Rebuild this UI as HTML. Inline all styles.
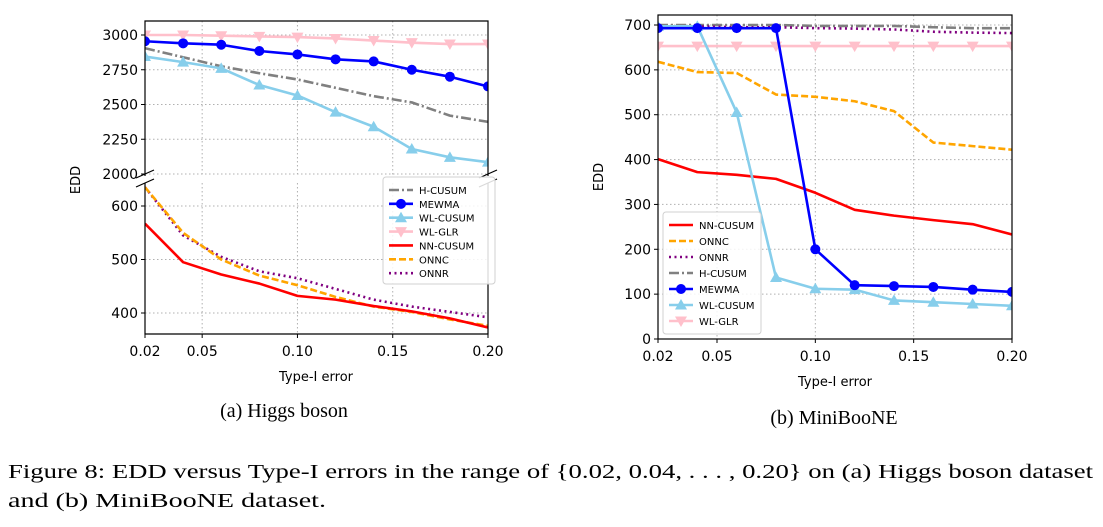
<!DOCTYPE html>
<html><head><meta charset="utf-8"><style>
body{margin:0;background:#fff;}
svg text{font-family:"DejaVu Sans","Liberation Sans",sans-serif;}
.serif{font-family:"Liberation Serif","DejaVu Serif",serif;}
</style></head><body>
<svg id="fig" width="1103" height="522" viewBox="0 0 1103 522" xmlns="http://www.w3.org/2000/svg">
<g id="gA"></g>
<g id="gB"></g>
<text class="serif" x="284" y="417" font-size="20" text-anchor="middle">(a) Higgs boson</text>
<text class="serif" x="834" y="424" font-size="20" text-anchor="middle">(b) MiniBooNE</text>
<text class="serif" x="8" y="478" font-size="20" textLength="1085" lengthAdjust="spacingAndGlyphs">Figure 8: EDD versus Type-I errors in the range of {0.02, 0.04, . . . , 0.20} on (a) Higgs boson dataset</text>
<text class="serif" x="8" y="507" font-size="20" textLength="318" lengthAdjust="spacingAndGlyphs">and (b) MiniBooNE dataset.</text>
</svg>
<script>
const xs=[0.02,0.04,0.06,0.08,0.10,0.12,0.14,0.16,0.18,0.20];
const xTicks=[0.02,0.05,0.10,0.15,0.20];
const xTickLabels=["0.02","0.05","0.10","0.15","0.20"];
// Higgs
const aWLGLR=[3000,3000,2995,2990,2985,2975,2960,2945,2935,2935];
const aMEWMA=[2955,2940,2930,2885,2860,2825,2810,2750,2700,2630];
const aHCUSUM=[2905,2840,2775,2725,2680,2620,2560,2515,2420,2375];
const aWLCUSUM=[2845,2805,2760,2640,2565,2445,2340,2180,2120,2085];
const aNNCUSUM=[567,495,472,455,432,425,413,403,390,373];
const aONNC=[635,550,500,470,452,430,412,402,388,376];
const aONNR=[635,545,505,478,465,445,425,412,402,392];
const aTopTicks=[2000,2250,2500,2750,3000];
const aBotTicks=[400,500,600];
// MiniBooNE
const bMEWMA=[693,693,693,693,200,120,118,116,110,105];
const bWLCUSUM=[697,697,505,137,112,110,86,82,78,74];
const bWLGLR=[653,653,653,653,653,653,653,653,653,653];
const bHCUSUM=[700,700,700,700,698,698,698,695,693,693];
const bONNR=[697,697,695,695,693,692,690,685,683,682];
const bONNC=[618,595,593,545,540,530,508,438,430,422];
const bNNCUSUM=[401,372,366,357,326,288,275,265,256,233];
const bTicks=[0,100,200,300,400,500,600,700];

const NS="http://www.w3.org/2000/svg";
function mk(p,tag,at){const e=document.createElementNS(NS,tag);for(const k in at)e.setAttribute(k,at[k]);p.appendChild(e);return e;}
function lin(d0,d1,r0,r1){return v=>r0+(v-d0)*(r1-r0)/(d1-d0);}
const styles={
 "H-CUSUM":{c:"#808080",dash:"10,3,2,3",m:null},
 "MEWMA":{c:"#0000ff",dash:null,m:"o"},
 "WL-CUSUM":{c:"#87ceeb",dash:null,m:"^"},
 "WL-GLR":{c:"#ffc0cb",dash:null,m:"v"},
 "NN-CUSUM":{c:"#ff0000",dash:null,m:null},
 "ONNC":{c:"#ffa500",dash:"7,3",m:null},
 "ONNR":{c:"#800080",dash:"2,3.5",m:null}};
function marker(g,type,x,y,c,name){
 let e;
 if(type==="o")e=mk(g,"circle",{cx:x,cy:y,r:5,fill:c});
 else if(type==="^")e=mk(g,"polygon",{points:`${x},${y-6} ${x-6},${y+4.5} ${x+6},${y+4.5}`,fill:c});
 else e=mk(g,"polygon",{points:`${x},${y+6} ${x-6},${y-4.5} ${x+6},${y-4.5}`,fill:c});
 
 
}
function series(g,name,vals,X,Y,clip){
 const s=styles[name];
 const sg=mk(g,"g",{"clip-path":clip?`url(#${clip})`:""});
 
 
 const pts=vals.map((v,i)=>X(xs[i])+","+Y(v)).join(" ");
 const pl=mk(sg,"polyline",{points:pts,fill:"none",stroke:s.c,"stroke-width":2.6,"stroke-linejoin":"round"});
 if(s.dash)pl.setAttribute("stroke-dasharray",s.dash);
 
 
 if(s.m)vals.forEach((v,i)=>marker(sg,s.m,X(xs[i]),Y(v),s.c,name.toLowerCase()));
}
function grid(g,X,Y,x0,x1,y0,y1,yt){
 xTicks.forEach(t=>{const l=mk(g,"line",{x1:X(t),x2:X(t),y1:y0,y2:y1,stroke:"#b0b0b0","stroke-width":1,"stroke-dasharray":"1.5,2.5"});});
 yt.forEach(t=>{const l=mk(g,"line",{x1:x0,x2:x1,y1:Y(t),y2:Y(t),stroke:"#b0b0b0","stroke-width":1,"stroke-dasharray":"1.5,2.5"});});
}
function yTicks(g,Y,x0,yt){
 yt.forEach(t=>{mk(g,"line",{x1:x0-4,x2:x0,y1:Y(t),y2:Y(t),stroke:"#000"});
  const tx=mk(g,"text",{x:x0-7,y:Y(t)+5,"font-size":14,"text-anchor":"end"});tx.textContent=t;
  });
}
function xAxis(g,X,yb){
 xTicks.forEach((t,i)=>{mk(g,"line",{x1:X(t),x2:X(t),y1:yb,y2:yb+4,stroke:"#000"});
  const tx=mk(g,"text",{x:X(t),y:yb+22,"font-size":14,"text-anchor":"middle"});tx.textContent=xTickLabels[i];
  });
}
function legend(g,x,y,w,h,names){
 const lg=mk(g,"g",{});
 
 mk(lg,"rect",{x:x,y:y,width:w,height:h,rx:3,fill:"#fff","fill-opacity":0.85,stroke:"#d0d0d0"});
 names.forEach((n,i)=>{
  const s=styles[n];const yy=y+11+i*(h-10)/names.length+2;
  const eg=mk(lg,"g",{});
  
  const l=mk(eg,"line",{x1:x+6,x2:x+30,y1:yy,y2:yy,stroke:s.c,"stroke-width":2.6});
  if(s.dash)l.setAttribute("stroke-dasharray",s.dash);
  if(s.m)marker(eg,s.m,x+18,yy,s.c,'legend-'+n.toLowerCase());
  const t=mk(eg,"text",{x:x+36,y:yy+4,"font-size":10});t.textContent=n;
 });
}
// Chart A
(function(){
 const g=document.getElementById("gA");
 const x0=145,x1=488;const X=lin(0.02,0.20,x0,x1);
 const Yt=lin(2000,3000,174,35), Yb=lin(400,600,313,206);
 const defs=mk(g,"defs",{});
 const c1=mk(defs,"clipPath",{id:"ca1"});mk(c1,"rect",{x:x0,y:21,width:x1-x0,height:155});
 const c2=mk(defs,"clipPath",{id:"ca2"});mk(c2,"rect",{x:x0,y:183,width:x1-x0,height:151});
 grid(g,X,Yt,x0,x1,21,176,aTopTicks);
 grid(g,X,Yb,x0,x1,183,334,aBotTicks);
 series(g,"WL-GLR",aWLGLR,X,Yt,"ca1");
 series(g,"MEWMA",aMEWMA,X,Yt,"ca1");
 series(g,"H-CUSUM",aHCUSUM,X,Yt,"ca1");
 series(g,"WL-CUSUM",aWLCUSUM,X,Yt,"ca1");
 series(g,"ONNR",aONNR,X,Yb,"ca2");
 series(g,"ONNC",aONNC,X,Yb,"ca2");
 series(g,"NN-CUSUM",aNNCUSUM,X,Yb,"ca2");
 mk(g,"path",{d:`M${x0},176 L${x0},21 L${x1},21 L${x1},176`,fill:"none",stroke:"#000","stroke-width":1.2});
 mk(g,"path",{d:`M${x0},183 L${x0},334 L${x1},334 L${x1},183`,fill:"none",stroke:"#000","stroke-width":1.2});
 [x0,x1].forEach(xx=>{mk(g,"line",{x1:xx-9,y1:178,x2:xx+9,y2:170,stroke:"#000","stroke-width":1.2});mk(g,"line",{x1:xx-9,y1:187,x2:xx+9,y2:179,stroke:"#000","stroke-width":1.2});});
 yTicks(g,Yt,x0,aTopTicks);yTicks(g,Yb,x0,aBotTicks);
 xAxis(g,X,334);
 const yl=mk(g,"text",{x:0,y:0,"font-size":13,"text-anchor":"middle",transform:"translate(80,180) rotate(-90)"});yl.textContent="EDD";
 
 const xl=mk(g,"text",{x:316,y:381,"font-size":13,"text-anchor":"middle"});xl.textContent="Type-I error";
 
 legend(g,383,177,112,107,["H-CUSUM","MEWMA","WL-CUSUM","WL-GLR","NN-CUSUM","ONNC","ONNR"]);
})();
// Chart B
(function(){
 const g=document.getElementById("gB");
 const x0=658,x1=1012;const X=lin(0.02,0.20,x0,x1);
 const Y=lin(0,700,339,25);
 const defs=mk(g,"defs",{});
 const c=mk(defs,"clipPath",{id:"cb"});mk(c,"rect",{x:x0,y:15,width:x1-x0,height:324});
 grid(g,X,Y,x0,x1,15,339,bTicks);
 series(g,"WL-GLR",bWLGLR,X,Y,"cb");
 series(g,"H-CUSUM",bHCUSUM,X,Y,"cb");
 series(g,"ONNR",bONNR,X,Y,"cb");
 series(g,"ONNC",bONNC,X,Y,"cb");
 series(g,"NN-CUSUM",bNNCUSUM,X,Y,"cb");
 series(g,"WL-CUSUM",bWLCUSUM,X,Y,"cb");
 series(g,"MEWMA",bMEWMA,X,Y,"cb");
 mk(g,"rect",{x:x0,y:15,width:x1-x0,height:324,fill:"none",stroke:"#000","stroke-width":1.2});
 yTicks(g,Y,x0,bTicks);
 xAxis(g,X,339);
 const yl=mk(g,"text",{x:0,y:0,"font-size":13,"text-anchor":"middle",transform:"translate(603,177) rotate(-90)"});yl.textContent="EDD";
 
 const xl=mk(g,"text",{x:835,y:386,"font-size":13,"text-anchor":"middle"});xl.textContent="Type-I error";
 
 legend(g,663,212,98,122,["NN-CUSUM","ONNC","ONNR","H-CUSUM","MEWMA","WL-CUSUM","WL-GLR"]);
})();
</script>
</body></html>
